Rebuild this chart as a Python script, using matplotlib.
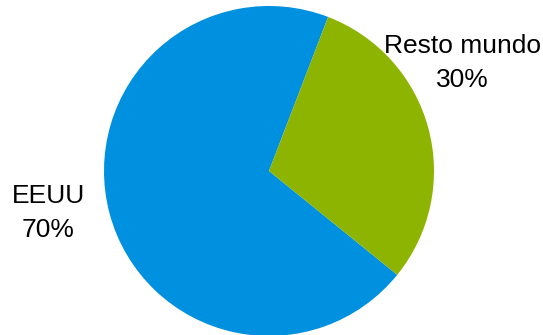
import matplotlib
matplotlib.use("Agg")
import matplotlib.pyplot as plt

labels = ["EEUU", "Resto mundo"]
values = [70, 30]
colors = ["#0090E0", "#8CB400"]

plt.rcParams['font.family'] = ['Liberation Sans', 'DejaVu Sans']

fig = plt.figure(figsize=(5.43, 3.35), dpi=100)
ax = fig.add_axes([0, 0, 1, 1])

ax.pie(values, colors=colors, startangle=-39, counterclock=False,
       center=(269, 164), radius=165, frame=True,
       wedgeprops=dict(linewidth=0))
ax.set_xlim(0, 543)
ax.set_ylim(0, 335)
ax.set_aspect('equal')
ax.axis('off')

label_pos = [(48, 122), (462, 272)]
for (x, y), lab, v in zip(label_pos, labels, values):
    ax.text(x, y, f"{lab}\n{v}%", ha='center', va='center', fontsize=19,
            color='black', linespacing=1.5)

fig.savefig("out.png", dpi=100)
